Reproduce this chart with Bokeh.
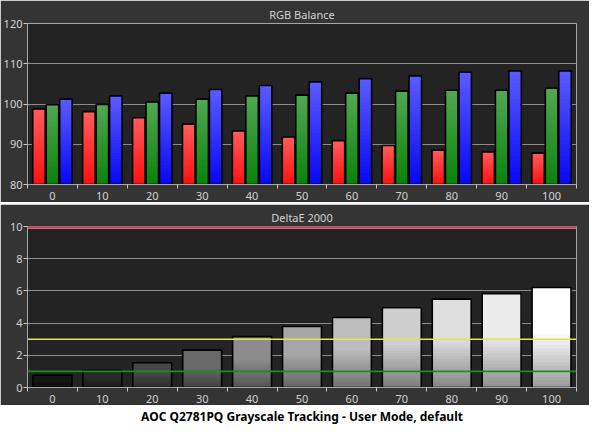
from bokeh.plotting import figure
from bokeh.models import Range1d, FixedTicker, Span, ColumnDataSource
from bokeh.layouts import column
from bokeh.embed import file_html
from bokeh.resources import INLINE
from bokeh.core.properties import value

# ---------------- data ----------------
levels = [0, 10, 20, 30, 40, 50, 60, 70, 80, 90, 100]
red_balance = [98.8, 98.1, 96.6, 95.0, 93.3, 91.8, 90.9, 89.7, 88.5, 88.1, 87.8]
green_balance = [99.8, 99.9, 100.5, 101.2, 102.0, 102.2, 102.7, 103.2, 103.4, 103.4, 103.9]
blue_balance = [101.2, 102.0, 102.7, 103.6, 104.6, 105.5, 106.3, 107.0, 107.9, 108.2, 108.2]
delta_e = [0.76, 1.06, 1.54, 2.32, 3.16, 3.79, 4.35, 4.95, 5.49, 5.83, 6.21]
rgb_ticks = [80, 90, 100, 110, 120]
de_ticks = [0, 2, 4, 6, 8, 10]
de_good = 1
de_visible = 3
de_limit = 10
title_rgb = "RGB Balance"
title_de = "DeltaE 2000"
caption = "AOC Q2781PQ Grayscale Tracking - User Mode, default"

# ---------------- style ----------------
BG = "#343434"
FRAME = "#232323"
GRID = "#8c8c8c"
EDGE = "#a6a6a6"
LABEL = "#d2d2d2"
FONT = "Noto Sans"
gray_tops = ["#161616", "#2a2a2a", "#474747", "#6a6a6a", "#8c8c8c", "#a7a7a7",
             "#bdbdbd", "#cfcfcf", "#dfdfdf", "#ececec", "#ffffff"]


def hx(c):
    c = c.lstrip("#")
    return [int(c[i:i + 2], 16) for i in (0, 2, 4)]


def mix(c1, c2, t):
    a, b = hx(c1), hx(c2)
    return "#%02x%02x%02x" % tuple(int(round(a[i] + (b[i] - a[i]) * t)) for i in range(3))


def scale(c, f):
    a = hx(c)
    return "#%02x%02x%02x" % tuple(int(round(v * f)) for v in a)


def gradient_bars(p, xs, tops, base, width, top_cols, bot_cols, ramp, n=28):
    L, R, B, T, C = [], [], [], [], []
    for x, top, ct, cb in zip(xs, tops, top_cols, bot_cols):
        for j in range(n):
            t = j / n
            f = min(1.0, ((j + 0.5) / n) / ramp)
            L.append(x - width / 2)
            R.append(x + width / 2)
            B.append(base + (top - base) * t)
            T.append(top)
            C.append(mix(cb, ct, f))
    src = ColumnDataSource(dict(left=L, right=R, bottom=B, top=T, color=C))
    p.quad(left="left", right="right", bottom="bottom", top="top",
           fill_color="color", line_color=None, source=src)
    p.vbar(x=xs, width=width, bottom=base, top=tops, fill_color=None,
           line_color="black", line_width=1.6)


def make_fig(height, yr, yticks, title, bl, bt, bb):
    p = figure(width=589, height=height, x_range=Range1d(-5, 105), y_range=Range1d(*yr),
               output_backend="svg", toolbar_location=None, title=title,
               min_border_left=bl, min_border_right=13, min_border_top=bt, min_border_bottom=bb)
    p.border_fill_color = BG
    p.background_fill_color = FRAME
    p.outline_line_color = EDGE
    p.outline_line_width = 1
    p.title.align = "center"
    p.title.text_color = LABEL
    p.title.text_font = FONT
    p.title.text_font_size = "11px"
    p.title.text_font_style = "normal"
    p.title.standoff = 3
    xa = p.xaxis[0]
    xa.ticker = FixedTicker(ticks=levels, minor_ticks=[l - 5 for l in levels] + [levels[-1] + 5])
    xa.major_tick_out = 0
    xa.major_tick_in = 0
    xa.minor_tick_out = 4
    xa.minor_tick_in = 0
    xa.minor_tick_line_color = "#c8c8c8"
    xa.axis_line_color = EDGE
    xa.major_label_standoff = 3
    ya = p.yaxis[0]
    ya.ticker = FixedTicker(ticks=yticks, minor_ticks=[])
    ya.major_tick_out = 4
    ya.major_tick_in = 0
    ya.major_tick_line_color = "#c8c8c8"
    ya.minor_tick_line_color = None
    ya.axis_line_color = EDGE
    ya.major_label_standoff = 1
    for a in (xa, ya):
        a.major_label_text_color = LABEL
        a.major_label_text_font = FONT
        a.major_label_text_font_size = "11px"
    p.xgrid.visible = False
    p.ygrid.grid_line_color = GRID
    p.ygrid.grid_line_width = 1
    return p


# ---------------- RGB balance ----------------
p1 = make_fig(202, (80, 120), rgb_ticks, title_rgb, 25, 23, 18)
gradient_bars(p1, [l - 2.7 for l in levels], red_balance, 80, 2.5,
              ["#ff5c5c"] * 11, ["#ff1010"] * 11, 1.0)
gradient_bars(p1, levels, green_balance, 80, 2.5,
              ["#52a852"] * 11, ["#0a820a"] * 11, 1.0)
gradient_bars(p1, [l + 2.7 for l in levels], blue_balance, 80, 2.5,
              ["#5c5cff"] * 11, ["#0606f4"] * 11, 1.0)

# ---------------- DeltaE ----------------
p2 = make_fig(201, (0, 10), de_ticks, title_de, 20, 22, 18)
gradient_bars(p2, levels, delta_e, 0, 7.8,
              gray_tops, [scale(c, 0.6) for c in gray_tops], 0.55)
p2.add_layout(Span(location=de_limit, dimension="width", line_color="#d06a78", line_width=5))
p2.add_layout(Span(location=de_limit, dimension="width", line_color="#bf3444", line_width=2.5))
p2.add_layout(Span(location=de_visible, dimension="width", line_color="#e4e44c", line_width=1.5))
p2.add_layout(Span(location=de_good, dimension="width", line_color="#1e8c1e", line_width=1.8))

# ---------------- caption ----------------
p3 = figure(width=589, height=18, x_range=Range1d(0, 1), y_range=Range1d(0, 1),
            output_backend="svg", toolbar_location=None, min_border=0)
p3.axis.visible = False
p3.grid.visible = False
p3.outline_line_color = None
p3.border_fill_color = "white"
p3.background_fill_color = "white"
p3.text(x=[0.5], y=[0.5], text=[caption], text_align="center", text_baseline="middle",
        text_font=value(FONT), text_font_size="12px", text_font_style="bold", text_color="black")

layout = column(p1, p2, p3, spacing=2)
open("out.html", "w").write(file_html(layout, INLINE))
